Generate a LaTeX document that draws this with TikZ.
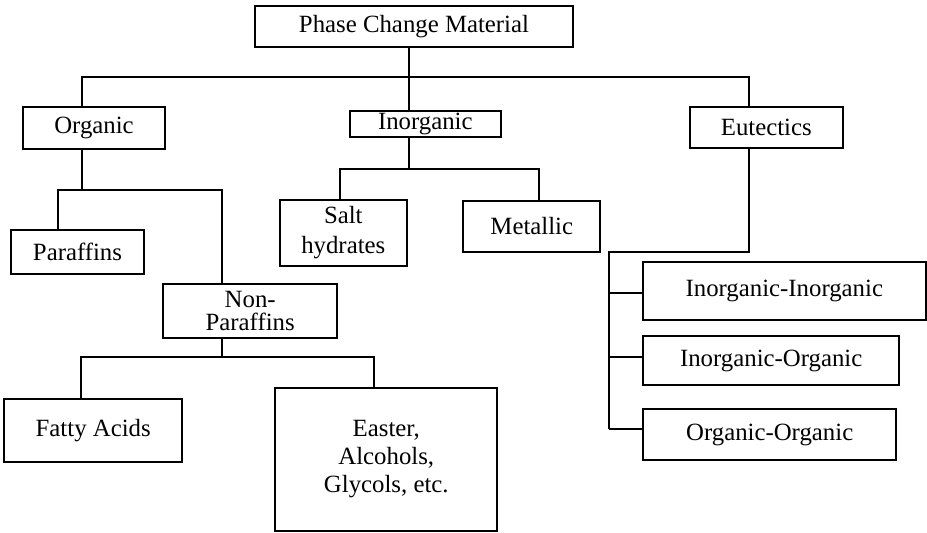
\documentclass[tikz,border=0pt]{standalone}
\usepackage{fontspec}
\setmainfont{Liberation Serif}
\begin{document}
\begin{tikzpicture}[x=0.5pt,y=-0.5pt,line width=1pt,
  box/.style={draw,line width=1pt,inner sep=0pt,align=center,font=\fontsize{12.4}{15}\selectfont},
  conn/.style={draw,line width=1pt}]
\useasboundingbox (0,0) rectangle (927,533);
% boxes
\node[box,minimum width=159pt,minimum height=20.5pt] (pcm) at (414,26.5) {Phase Change Material};
\node[box,minimum width=71pt,minimum height=21pt] (org) at (94,128) {Organic};
\node[box,minimum width=75.35pt,minimum height=13pt] (inorg) at (425.3,124) {Inorganic};
\node[box,minimum width=76.35pt,minimum height=20.5pt] (eut) at (766.3,127.5) {Eutectics};
\node[box,minimum width=66.5pt,minimum height=22pt] (par) at (77.5,252) {Paraffins};
\node[box,minimum width=63.35pt,minimum height=32.85pt] (salt) at (343.3,232.8) {Salt\\hydrates};
\node[box,minimum width=68.5pt,minimum height=25.5pt] (met) at (531.8,226.2) {Metallic};
\node[box,minimum width=87.15pt,minimum height=27.15pt,font=\fontsize{12.4}{11.5}\selectfont] (np) at (250.2,311.2) {Non-\\Paraffins};
\node[box,minimum width=89.15pt,minimum height=31.5pt] (fat) at (93.2,430.8) {Fatty Acids};
\node[box,minimum width=111pt,minimum height=71.2pt,font=\fontsize{12.4}{14}\selectfont] (eas) at (386.3,459.5) {Easter,\\Alcohols,\\Glycols, etc.};
\node[box,minimum width=141.35pt,minimum height=29.15pt] (ii) at (784.3,290.8) {Inorganic-Inorganic};
\node[box,minimum width=128.15pt,minimum height=24.5pt] (io) at (771.2,360.5) {Inorganic-Organic};
\node[box,minimum width=126.65pt,minimum height=25.5pt] (oo) at (769.7,434.5) {Organic-Organic};
% junctions
\coordinate (j0) at (409,77);
\coordinate (xo) at (82,77);
\coordinate (xe) at (749,77);
\coordinate (o1) at (58,190);
\coordinate (o2) at (222,190);
\coordinate (i1) at (340,169);
\coordinate (i2) at (539,169);
\coordinate (e1) at (609,252);
\coordinate (t1) at (609,293.3);
\coordinate (t2) at (609,357.3);
\coordinate (t3) at (609,429);
\coordinate (n1) at (81,357.3);
\coordinate (n2) at (374.3,357.3);
% connectors
\draw[conn] (pcm.south -| j0) -- (inorg.north -| j0);
\draw[conn] (org.north -| xo) -- (xo) -- (xe) -- (eut.north -| xe);
\draw[conn] (org.south -| xo) -- (xo |- o1);
\draw[conn] (par.north -| o1) -- (o1) -- (o2) -- (np.north -| o2);
\draw[conn] (inorg.south -| j0) -- (j0 |- i1);
\draw[conn] (salt.north -| i1) -- (i1) -- (i2) -- (met.north -| i2);
\draw[conn] (eut.south -| xe) -- (xe |- e1) -- (e1) -- (t3);
\draw[conn] (t1) -- (t1 -| ii.west);
\draw[conn] (t2) -- (t2 -| io.west);
\draw[conn] (t3) -- (t3 -| oo.west);
\draw[conn] (np.south -| o2) -- (o2 |- n1);
\draw[conn] (fat.north -| n1) -- (n1) -- (n2) -- (eas.north -| n2);
\end{tikzpicture}
\end{document}
